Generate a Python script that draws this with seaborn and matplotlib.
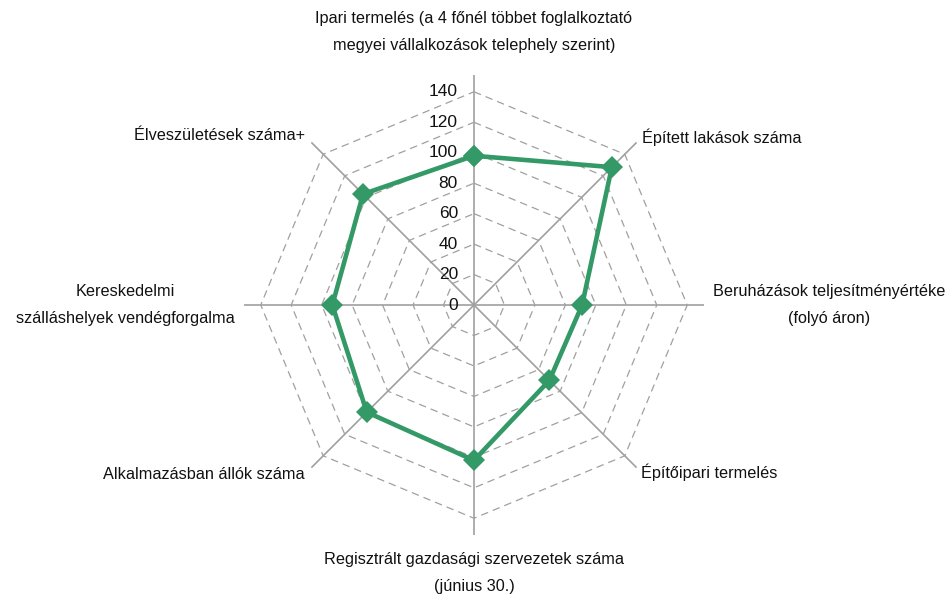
import numpy as np
import matplotlib
matplotlib.use("Agg")
import matplotlib.pyplot as plt
import matplotlib.transforms as mtransforms
import seaborn as sns

# Radar chart data (index values)
categories = [
    "Ipari termelés (a 4 főnél többet foglalkoztató\nmegyei vállalkozások telephely szerint)",
    "Épített lakások száma",
    "Beruházások teljesítményértéke\n(folyó áron)",
    "Építőipari termelés",
    "Regisztrált gazdasági szervezetek száma\n(június 30.)",
    "Alkalmazásban állók száma",
    "Kereskedelmi\nszálláshelyek vendégforgalma",
    "Élveszületések száma+",
]
values = [98, 128, 71, 70, 102, 99.5, 93, 103]
ring_values = [0, 20, 40, 60, 80, 100, 120, 140]
ring_labels = ["0", "20", "40", "60", "80", "100", "120", "140"]

sns.set_theme(style="white")
plt.rcParams["font.family"] = ["Liberation Sans", "DejaVu Sans"]

green = "#339966"
grid_gray = "#a0a0a0"
r_max = 151

fig = plt.figure(figsize=(9.49, 5.95), dpi=100)
ax = fig.add_axes([0.2571, 0.1008, 0.4847, 0.7731], projection="polar")
ax.set_theta_zero_location("N")
ax.set_theta_direction(-1)
ax.set_ylim(0, r_max)
ax.grid(False)
ax.set_xticks([])
ax.set_yticks([])
ax.spines["polar"].set_visible(False)
ax.patch.set_alpha(0)

n = len(categories)
theta = np.linspace(0, 2 * np.pi, n, endpoint=False)
theta_closed = np.append(theta, theta[0])

# dashed octagon gridlines
for r in ring_values[1:]:
    ax.plot(theta_closed, [r] * (n + 1), color=grid_gray, lw=0.9,
            ls=(0, (6, 4)), zorder=1)

# spokes
for t in theta:
    ax.plot([t, t], [0, r_max], color=grid_gray, lw=1.2, zorder=1)

# data line
vals_closed = values + values[:1]
sns.lineplot(x=theta_closed, y=vals_closed, sort=False, estimator=None,
             ax=ax, color=green, lw=3.3, marker="D", markersize=11,
             markeredgewidth=0, zorder=3)

# radial tick labels left of the top spoke
off = mtransforms.offset_copy(ax.transData, fig=fig, x=-16, y=0, units="dots")
for r, lab in zip(ring_values, ring_labels):
    ax.text(0, r, lab, transform=off, ha="right", va="center", fontsize=12.5,
            color="#111111")

# category labels
label_pos = [
    (179, "center", "center"),
    (156, "left", "center"),
    (157, "left", "center"),
    (155.5, "left", "center"),
    (176, "center", "center"),
    (157, "right", "center"),
    (157, "right", "center"),
    (157, "right", "center"),
]
for t, lab, (r, ha, va) in zip(theta, categories, label_pos):
    ax.text(t, r, lab, ha=ha, va=va, multialignment="center", fontsize=11.7,
            linespacing=2.0, color="#111111")

fig.savefig("out.png", dpi=100)
